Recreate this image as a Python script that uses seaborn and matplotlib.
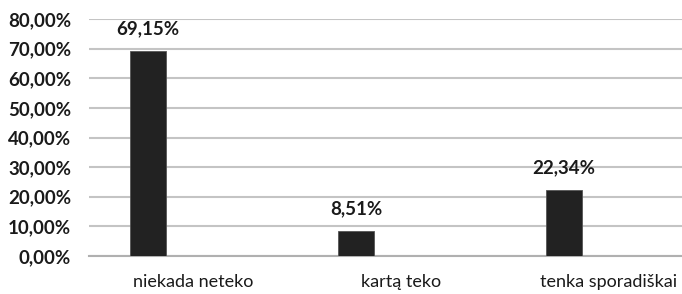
import pandas as pd
import numpy as np
import matplotlib
matplotlib.use("Agg")
import matplotlib.pyplot as plt
from matplotlib.ticker import FuncFormatter, MultipleLocator
import seaborn as sns

# data
categories = ["niekada neteko", "kartą teko", "tenka sporadiškai"]
shares = [69.15, 8.51, 22.34]          # percent
series_names = ["atsakymai", "tuščia"]  # second series is empty (Excel style offset)

df = pd.DataFrame({
    "kategorija": categories * 2,
    "serija": [series_names[0]] * 3 + [series_names[1]] * 3,
    "reiksme": shares + [np.nan] * 3,
})

sns.set_theme(style="white")
plt.rcParams["font.family"] = ["Lato", "DejaVu Sans"]

fig = plt.figure(figsize=(6.82, 2.94), dpi=100)
ax = fig.add_axes([89 / 682, 38 / 294, 1 - 89 / 682, (256 - 19) / 294])

sns.barplot(data=df, x="kategorija", y="reiksme", hue="serija",
            hue_order=series_names, order=categories,
            palette=["#222222", "#222222"], width=0.865, gap=0.6,
            dodge=True, legend=False, edgecolor="#555555", linewidth=0.6,
            ax=ax, zorder=3)

# value labels above the bars
for cont in ax.containers[:1]:
    ax.bar_label(cont, labels=[f"{v:.2f}%".replace(".", ",") for v in shares],
                 padding=10, fontsize=13.5, color="#1a1a1a", fontweight="bold")

ax.set_ylim(0, 80)
ax.set_xlim(-0.5, 2.351)
ax.yaxis.set_major_locator(MultipleLocator(10))
ax.yaxis.set_major_formatter(FuncFormatter(lambda v, p: f"{v:.2f}%".replace(".", ",")))
ax.grid(axis="y", color="#c4c4c4", linewidth=1.5, zorder=0)
ax.set_axisbelow(True)

for s in ["top", "right", "left"]:
    ax.spines[s].set_visible(False)
ax.spines["bottom"].set_color("#b0b0b0")
ax.spines["bottom"].set_linewidth(1.5)

ax.tick_params(axis="y", length=0, pad=13, labelsize=13.5, labelcolor="#1a1a1a")
ax.tick_params(axis="x", length=0, pad=13, labelsize=13, labelcolor="#1a1a1a")
for lab in ax.get_yticklabels():
    lab.set_fontweight("bold")
ax.set_xlabel("")
ax.set_ylabel("")

fig.savefig("out.png", dpi=100)
